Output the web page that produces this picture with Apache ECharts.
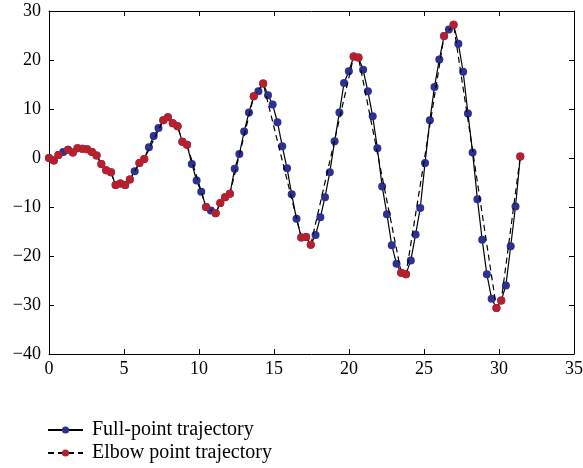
<!DOCTYPE html>
<html>
<head>
<meta charset="utf-8">
<script src="https://cdn.jsdelivr.net/npm/echarts@6/dist/echarts.min.js"></script>
<style>
  html, body { margin: 0; padding: 0; background: #fff; }
</style>
</head>
<body>
<!-- chart container -->
<div id="myChart" style="width: 583px; height: 468px;"></div>
<script>
// trajectory samples (x evenly spaced)
var xValues = [
  0.00, 0.32, 0.63, 0.95, 1.27, 1.59, 1.90, 2.22, 2.54, 2.86,
  3.17, 3.49, 3.81, 4.13, 4.44, 4.76, 5.08, 5.39, 5.71, 6.03,
  6.35, 6.66, 6.98, 7.30, 7.62, 7.93, 8.25, 8.57, 8.89, 9.20,
  9.52, 9.84, 10.15, 10.47, 10.79, 11.11, 11.42, 11.74, 12.06, 12.38,
  12.69, 13.01, 13.33, 13.65, 13.96, 14.28, 14.60, 14.91, 15.23, 15.55,
  15.87, 16.18, 16.50, 16.82, 17.14, 17.45, 17.77, 18.09, 18.40, 18.72,
  19.04, 19.36, 19.67, 19.99, 20.31, 20.63, 20.94, 21.26, 21.58, 21.89,
  22.21, 22.53, 22.85, 23.17, 23.48, 23.80, 24.12, 24.44, 24.75, 25.07,
  25.39, 25.70, 26.02, 26.34, 26.66, 26.97, 27.29, 27.61, 27.93, 28.24,
  28.56, 28.88, 29.19, 29.51, 29.83, 30.15, 30.46, 30.78, 31.10, 31.42
];
var fullY = [
  0.0, -0.5, 0.6, 1.2, 1.7, 1.1, 2.0, 1.9, 1.8, 1.2,
  0.5, -1.2, -2.5, -2.9, -5.5, -5.2, -5.5, -4.4, -2.7, -1.0,
  -0.2, 2.2, 4.5, 6.1, 7.7, 8.3, 7.1, 6.5, 3.3, 2.7,
  -1.2, -4.6, -6.9, -10.0, -10.7, -11.3, -9.2, -8.0, -7.3, -2.2,
  0.8, 5.4, 9.3, 12.6, 13.6, 15.2, 12.8, 10.9, 7.3, 2.4,
  -2.1, -7.4, -12.4, -16.2, -16.1, -17.7, -15.7, -12.1, -8.0, -2.9,
  3.4, 9.3, 15.3, 17.7, 20.7, 20.5, 18.0, 13.6, 8.5, 2.0,
  -5.8, -11.5, -17.8, -21.6, -23.4, -23.7, -20.9, -15.6, -10.2, -1.0,
  7.7, 14.5, 20.1, 24.9, 26.2, 27.2, 23.3, 17.6, 9.1, 1.1,
  -8.4, -16.7, -23.7, -28.7, -30.6, -29.1, -26.0, -18.0, -9.9, 0.3
];
// elbow points (subset of the trajectory)
var elbowX = [
  0.00, 0.32, 0.63, 1.27, 1.59, 1.90, 2.22, 2.54, 2.86, 3.17,
  3.49, 3.81, 4.13, 4.44, 4.76, 5.08, 5.39, 6.03, 6.35, 7.62,
  7.93, 8.25, 8.57, 8.89, 9.20, 10.47, 11.11, 11.42, 11.74, 12.06,
  13.65, 14.28, 16.82, 17.14, 17.45, 20.31, 20.63, 23.48, 23.80, 26.34,
  26.97, 29.83, 30.15, 31.42
];
var elbowY = [
  0.0, -0.5, 0.6, 1.7, 1.1, 2.0, 1.9, 1.8, 1.2, 0.5,
  -1.2, -2.5, -2.9, -5.5, -5.2, -5.5, -4.4, -1.0, -0.2, 7.7,
  8.3, 7.1, 6.5, 3.3, 2.7, -10.0, -11.3, -9.2, -8.0, -7.3,
  12.6, 15.2, -16.2, -16.1, -17.7, 20.7, 20.5, -23.4, -23.7, 24.9,
  27.2, -30.6, -29.1, 0.3
];
var seriesNames = ['Full-point trajectory', 'Elbow point trajectory'];

var fontFamily = '"Liberation Serif", "DejaVu Serif", serif';

function pairs(xs, ys) {
  var out = [];
  for (var i = 0; i < xs.length; i++) out.push([xs[i], ys[i]]);
  return out;
}
function minusFmt(v) {
  return String(v).replace('-', '\u2212');
}

var chart = echarts.init(document.getElementById('myChart'), null, { renderer: 'canvas' });

var axisBase = {
  axisLine: { show: true, onZero: false, lineStyle: { color: '#000', width: 1 } },
  axisTick: { show: true, inside: true, length: 5, lineStyle: { color: '#000', width: 1 } },
  splitLine: { show: false }
};

// one legend per row, stacked under the plot
function legendRow(name, top) {
  return {
    data: [name],
    left: 42,
    top: top,
    itemWidth: 35,
    itemHeight: 9,
    textStyle: { fontFamily: fontFamily, fontSize: 20, color: '#000', padding: [0, 0, 0, 4] }
  };
}

var option = {
  animation: false,
  backgroundColor: '#fff',
  grid: {
    left: 49,
    right: 9,
    top: 11,
    bottom: 114,
    containLabel: false,
    outerBoundsMode: 'none'
  },
  legend: [
    legendRow(seriesNames[0], 415),
    legendRow(seriesNames[1], 438)
  ],
  xAxis: [
    Object.assign({}, axisBase, {
      type: 'value',
      min: 0,
      max: 35,
      interval: 5,
      position: 'bottom',
      axisLabel: { color: '#000', fontFamily: fontFamily, fontSize: 18, margin: 6, formatter: minusFmt }
    }),
    Object.assign({}, axisBase, {
      type: 'value',
      min: 0,
      max: 35,
      interval: 5,
      position: 'top',
      axisLabel: { show: false }
    })
  ],
  yAxis: [
    Object.assign({}, axisBase, {
      type: 'value',
      min: -40,
      max: 30,
      interval: 10,
      position: 'left',
      axisLabel: { color: '#000', fontFamily: fontFamily, fontSize: 18, margin: 8, formatter: minusFmt }
    }),
    Object.assign({}, axisBase, {
      type: 'value',
      min: -40,
      max: 30,
      interval: 10,
      position: 'right',
      axisLabel: { show: false }
    })
  ],
  series: [
    {
      name: seriesNames[0],
      type: 'line',
      xAxisIndex: 0,
      yAxisIndex: 0,
      data: pairs(xValues, fullY),
      showAllSymbol: true,
      symbol: 'circle',
      symbolSize: 8,
      itemStyle: { color: '#2e3192' },
      lineStyle: { color: '#000', width: 1.2, type: 'solid' },
      z: 2
    },
    {
      name: seriesNames[1],
      type: 'line',
      xAxisIndex: 0,
      yAxisIndex: 0,
      data: pairs(elbowX, elbowY),
      showAllSymbol: true,
      symbol: 'circle',
      symbolSize: 8,
      itemStyle: { color: '#b81f2b' },
      lineStyle: { color: '#000', width: 1.2, type: [6, 4] },
      z: 3
    }
  ]
};
option && chart.setOption(option);
</script>
</body>
</html>
